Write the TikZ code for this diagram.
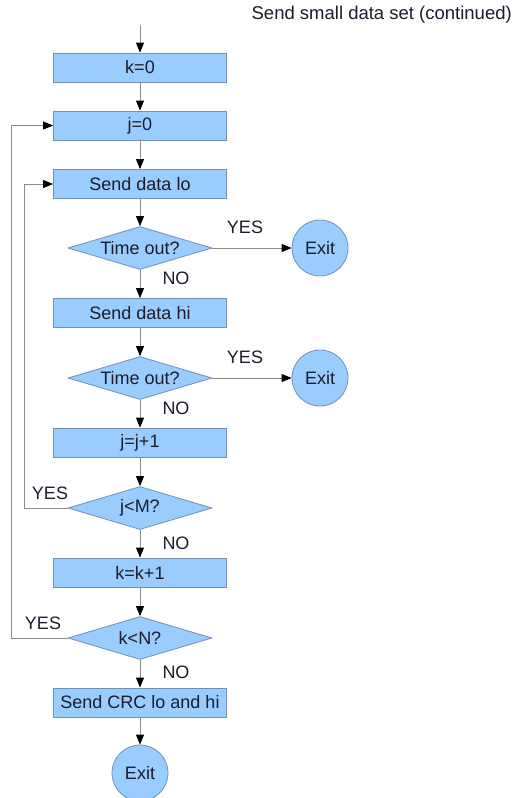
\documentclass[tikz,border=0pt]{standalone}
\usepackage{fontspec}
\setmainfont{Liberation Sans}
\usetikzlibrary{shapes.geometric,arrows.meta}
\definecolor{boxfill}{HTML}{99CCFF}
\definecolor{boxline}{HTML}{7290B0}
\definecolor{wire}{HTML}{8C8C8C}
\definecolor{ink}{HTML}{1C1C2C}
\begin{document}
\begin{tikzpicture}[x=1pt,y=-1pt,
  every node/.style={font=\fontsize{18}{21}\selectfont, text=ink},
  stepbox/.style={draw=boxline, fill=boxfill, line width=0.8pt, rectangle,
    minimum width=173pt, minimum height=29pt, inner sep=0pt},
  decision/.style={draw=boxline, fill=boxfill, line width=0.8pt, diamond,
    aspect=3.35, minimum width=144pt, minimum height=43pt, inner sep=0pt},
  exitnode/.style={draw=boxline, fill=boxfill, line width=0.8pt, circle,
    minimum size=56pt, inner sep=0pt},
  flow/.style={draw=wire, line width=0.8pt,
    -{Triangle[length=10pt,width=8pt,color=black]}},
  lbl/.style={inner sep=0pt}]
\useasboundingbox (0,0) rectangle (524,798);

\node[lbl, font=\fontsize{18.5}{21}\selectfont, anchor=east] (title) at (512,15) {Send small data set (continued)};

\coordinate (start) at (140,25);
\node[stepbox] (k0) at (140,67.5) {k=0};
\node[stepbox] (j0) at (140,125.5) {j=0};
\node[stepbox] (lo) at (140,184) {Send data lo};
\node[decision] (d1) at (140,248) {Time out?};
\node[exitnode] (x1) at (320,248) {Exit};
\node[stepbox] (hi) at (140,313) {Send data hi};
\node[decision] (d2) at (140,378) {Time out?};
\node[exitnode] (x2) at (320,378) {Exit};
\node[stepbox] (jj) at (140,442.5) {j=j+1};
\node[decision] (d3) at (140,508) {j<M?};
\node[stepbox] (kk) at (140,572.5) {k=k+1};
\node[decision] (d4) at (140,638) {k<N?};
\node[stepbox] (crc) at (140,702.5) {Send CRC lo and hi};
\node[exitnode] (x3) at (140,773) {Exit};

\coordinate (innerlow) at (24,508);
\coordinate (innerhigh) at (24,184);
\coordinate (outerlow) at (11,638);
\coordinate (outerhigh) at (11,125.5);

\draw[flow] (start) -- (k0);
\draw[flow] (k0) -- (j0);
\draw[flow] (j0) -- (lo);
\draw[flow] (lo) -- (d1);
\draw[flow] (d1) -- (hi);
\draw[flow] (d1.east) -- (x1);
\draw[flow] (hi) -- (d2);
\draw[flow] (d2.east) -- (x2);
\draw[flow] (d2) -- (jj);
\draw[flow] (jj) -- (d3);
\draw[flow] (d3) -- (kk);
\draw[flow] (d3.west) -- (innerlow) -- (innerhigh) -- (lo.west);
\draw[flow] (kk) -- (d4);
\draw[flow] (d4.west) -- (outerlow) -- (outerhigh) -- (j0.west);
\draw[flow] (d4) -- (crc);
\draw[flow] (crc) -- (x3);

\node[lbl] (yes1) at (245,227) {YES};
\node[lbl] (no1) at (176,278) {NO};
\node[lbl] (yes2) at (245,357) {YES};
\node[lbl] (no2) at (176,408) {NO};
\node[lbl] (yes3) at (50,493) {YES};
\node[lbl] (no3) at (176,543) {NO};
\node[lbl] (yes4) at (43,623) {YES};
\node[lbl] (no4) at (176,672) {NO};
\end{tikzpicture}
\end{document}
